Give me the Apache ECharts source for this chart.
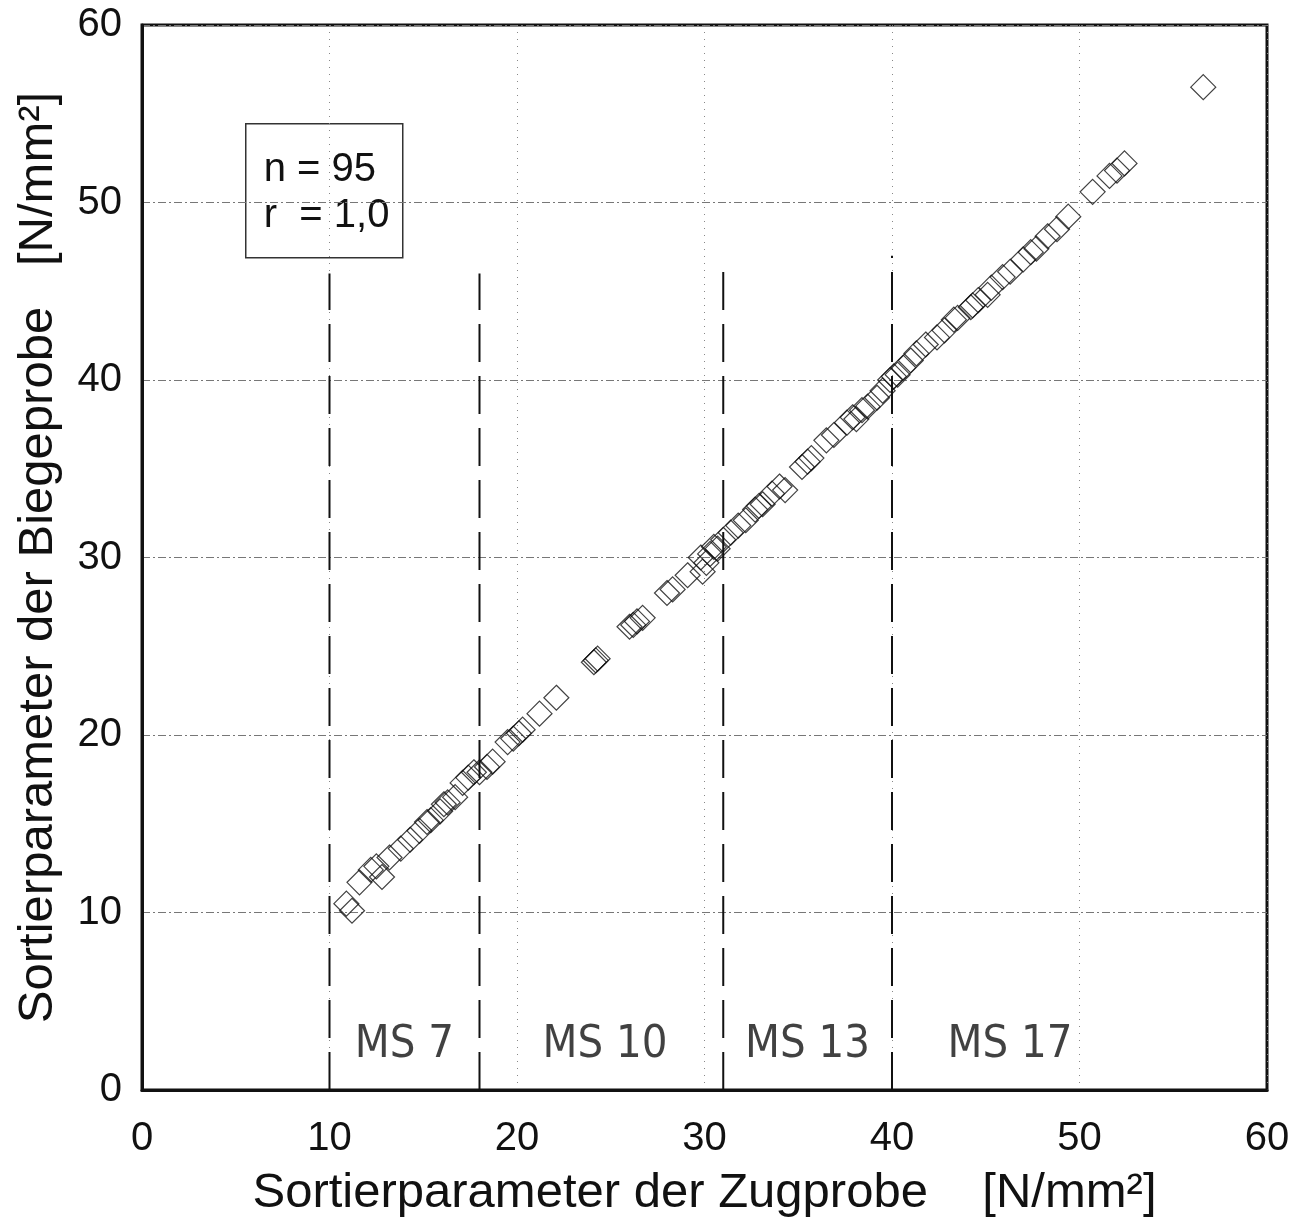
<!DOCTYPE html>
<html>
<head>
<meta charset="utf-8">
<title>Sortierparameter Zugprobe / Biegeprobe</title>
<script src="https://cdn.jsdelivr.net/npm/echarts@6/dist/echarts.min.js"></script>
<style>
  html, body { margin: 0; padding: 0; background: #fff; }
  #chart { width: 1300px; height: 1231px; }
</style>
</head>
<body>
<div id="chart"></div>
<script>
// Sortierparameter der Zugprobe (x) gegen Biegeprobe (y), N/mm²
const zugprobe = [
  10.9, 11.2, 11.6, 12.2, 12.5, 12.8, 13.2, 13.8, 14.3, 14.8,
  15.2, 15.4, 15.9, 16.1, 16.3, 16.7, 17.1, 17.4, 17.7, 18.0,
  18.4, 18.7, 19.5, 19.8, 20.1, 20.3, 21.2, 22.1, 24.1, 24.2,
  24.3, 26.0, 26.2, 26.4, 26.7, 28.0, 28.3, 29.1, 29.9, 29.8,
  30.1, 30.3, 30.5, 30.7, 31.0, 31.4, 31.8, 32.2, 32.7, 32.9,
  33.1, 33.6, 34.0, 34.3, 35.2, 35.5, 35.7, 36.5, 36.9, 37.6,
  37.9, 38.1, 38.4, 38.7, 39.2, 39.5, 39.9, 40.1, 40.3, 40.6,
  41.0, 41.3, 41.8, 42.4, 42.8, 43.3, 43.5, 44.2, 44.3, 44.6,
  45.1, 45.3, 45.9, 46.3, 47.0, 47.4, 47.7, 48.3, 48.8, 49.4,
  50.7, 51.6, 52.0, 52.4, 56.6
];
const biegeprobe = [
  10.5, 10.1, 11.7, 12.4, 12.6, 12.0, 13.1, 13.6, 14.1, 14.6,
  15.1, 15.2, 15.7, 16.1, 16.2, 16.5, 17.3, 17.6, 17.9, 17.9,
  18.2, 18.5, 19.6, 19.8, 20.1, 20.3, 21.2, 22.1, 24.1, 24.2,
  24.3, 26.1, 26.2, 26.4, 26.6, 28.0, 28.2, 29.0, 29.2, 30.0,
  29.7, 30.2, 30.6, 30.5, 31.0, 31.4, 31.8, 32.1, 32.7, 32.9,
  33.0, 33.6, 34.0, 33.8, 35.1, 35.4, 35.6, 36.6, 36.9, 37.6,
  37.9, 37.8, 38.3, 38.5, 39.0, 39.4, 40.0, 40.2, 40.3, 40.7,
  41.1, 41.5, 42.0, 42.4, 42.8, 43.4, 43.5, 44.1, 44.2, 44.5,
  44.8, 45.2, 45.8, 46.1, 46.8, 47.2, 47.4, 48.1, 48.5, 49.2,
  50.6, 51.5, 51.8, 52.2, 56.5
];

// Klassengrenzen der Sortierklassen (gestrichelte Linien)
const classBounds = [10, 18, 31, 40];
const classBoundTop = [46, 46, 46.5, 47];

// Beschriftung der Sortierklassen
const classNames = ['MS 7', 'MS 10', 'MS 13', 'MS 17'];
const classLabelX = [14.0, 24.7, 35.5, 46.3];
const classLabelY = [2.5, 2.5, 2.5, 2.5];

// Achsenteilung
const axisMin = 0;
const axisMax = 60;
const axisStep = 10;

const statsLines = ['n = 95', 'r  = 1,0'];

const points = zugprobe.map((x, i) => [x, biegeprobe[i]]);

const boundSeries = classBounds.map((b, i) => ({
  type: 'line',
  data: [[b, 0], [b, classBoundTop[i]]],
  symbol: 'none',
  silent: true,
  z: 3,
  lineStyle: { color: '#111', width: 2, type: [38, 14] }
}));

const chart = echarts.init(document.getElementById('chart'), null, { renderer: 'canvas' });

const font = "'Liberation Sans', Arial, sans-serif";

chart.setOption({
  backgroundColor: '#ffffff',
  animation: false,
  grid: {
    left: 142, right: 33, top: 25, bottom: 141,
    show: true,
    borderColor: '#111',
    borderWidth: 3,
    backgroundColor: 'transparent'
  },
  xAxis: {
    type: 'value',
    min: axisMin, max: axisMax, interval: axisStep,
    name: 'Sortierparameter der Zugprobe    [N/mm²]',
    nameLocation: 'middle',
    nameGap: 79,
    nameTextStyle: { fontSize: 49, color: '#111', fontFamily: font },
    axisLine: { show: true, lineStyle: { color: '#111', width: 3 } },
    axisTick: { show: false },
    axisLabel: { fontSize: 40, color: '#111', fontFamily: font, margin: 29 },
    splitLine: { show: true, lineStyle: { color: '#888', width: 1, type: [1, 6] } }
  },
  yAxis: {
    type: 'value',
    min: axisMin, max: axisMax, interval: axisStep,
    name: 'Sortierparameter der Biegeprobe   [N/mm²]',
    nameLocation: 'middle',
    nameGap: 79,
    nameTextStyle: { fontSize: 49, color: '#111', fontFamily: font },
    axisLine: { show: true, lineStyle: { color: '#111', width: 3 } },
    axisTick: { show: false },
    axisLabel: { fontSize: 40, color: '#111', fontFamily: font, margin: 20 },
    splitLine: { show: true, lineStyle: { color: '#777', width: 1, type: [8, 3, 2, 3] } }
  },
  graphic: [
    {
      type: 'group',
      left: 245, top: 123,
      z: 10,
      children: [
        {
          type: 'rect',
          shape: { x: 0, y: 0, width: 157, height: 134 },
          style: { fill: '#fff', stroke: '#333', lineWidth: 1.5 }
        },
        {
          type: 'text',
          x: 18, y: 46,
          style: { text: statsLines[0], font: "40px 'Liberation Sans', Arial, sans-serif", fill: '#111', textVerticalAlign: 'middle' }
        },
        {
          type: 'text',
          x: 18, y: 92,
          style: { text: statsLines[1], font: "40px 'Liberation Sans', Arial, sans-serif", fill: '#111', textVerticalAlign: 'middle' }
        }
      ]
    }
  ],
  series: [
    ...boundSeries,
    {
      type: 'scatter',
      data: classNames.map((n, i) => [classLabelX[i], classLabelY[i], n]),
      symbolSize: 1,
      silent: true,
      itemStyle: { color: 'rgba(0,0,0,0)' },
      label: {
        show: true,
        position: 'inside',
        formatter: p => p.data[2],
        fontSize: 45,
        color: '#111',
        fontFamily: "'Liberation Sans Narrow', 'DejaVu Sans Condensed', 'Liberation Sans', sans-serif"
      },
      z: 4
    },
    {
      type: 'scatter',
      data: points,
      symbol: 'diamond',
      symbolSize: 25,
      itemStyle: { color: 'rgba(0,0,0,0)', borderColor: '#111', borderWidth: 1.2 },
      z: 5
    }
  ]
});
</script>
</body>
</html>
